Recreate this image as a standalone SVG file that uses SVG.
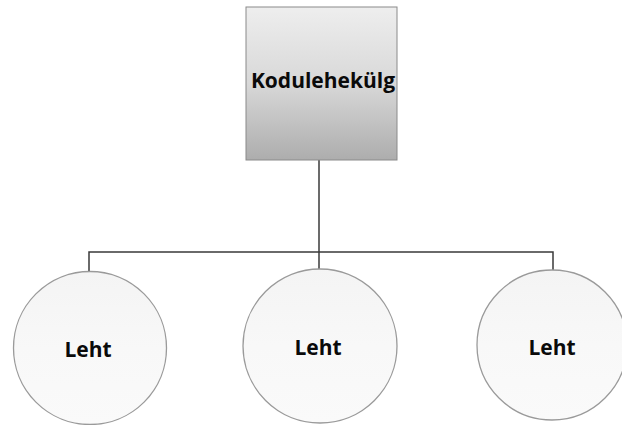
<svg xmlns="http://www.w3.org/2000/svg" width="622" height="425" viewBox="0 0 622 425">
<defs>
<linearGradient id="boxGrad" x1="0" y1="0" x2="0" y2="1">
<stop offset="0" stop-color="#eeeeee"/>
<stop offset="0.5" stop-color="#d8d8d8"/>
<stop offset="1" stop-color="#adadad"/>
</linearGradient>
<linearGradient id="circGrad" x1="0" y1="0" x2="0" y2="1">
<stop offset="0" stop-color="#f4f4f4"/>
<stop offset="0.5" stop-color="#f8f8f8"/>
<stop offset="1" stop-color="#fafafa"/>
</linearGradient>
<style>
.lbl{font-family:"Open Sans","DejaVu Sans",sans-serif;font-weight:bold;font-size:21px;fill:#0a0a0a;text-anchor:middle}
.leaf{fill:url(#circGrad);stroke:#9a9a9a;stroke-width:1.3}
.conn{fill:none;stroke:#3a3a3a;stroke-width:1.5}
</style>
</defs>
<rect width="622" height="425" fill="#ffffff"/>
<g id="connectors">
<path class="conn" d="M319,160 V252"/>
<path class="conn" d="M89,272 V252 H553 V270"/>
<path class="conn" d="M319,252 V269"/>
</g>
<g id="root">
<rect x="246" y="7" width="151" height="153" fill="url(#boxGrad)" stroke="#8a8a8a" stroke-width="1"/>
<text class="lbl" x="323" y="88">Kodulehekülg</text>
</g>
<g id="leaf1">
<circle class="leaf" cx="90" cy="348" r="76.5"/>
<text class="lbl" x="88" y="357">Leht</text>
</g>
<g id="leaf2">
<circle class="leaf" cx="320" cy="346" r="77"/>
<text class="lbl" x="318" y="355">Leht</text>
</g>
<g id="leaf3">
<circle class="leaf" cx="552" cy="345" r="75"/>
<text class="lbl" x="552" y="355">Leht</text>
</g>
</svg>
